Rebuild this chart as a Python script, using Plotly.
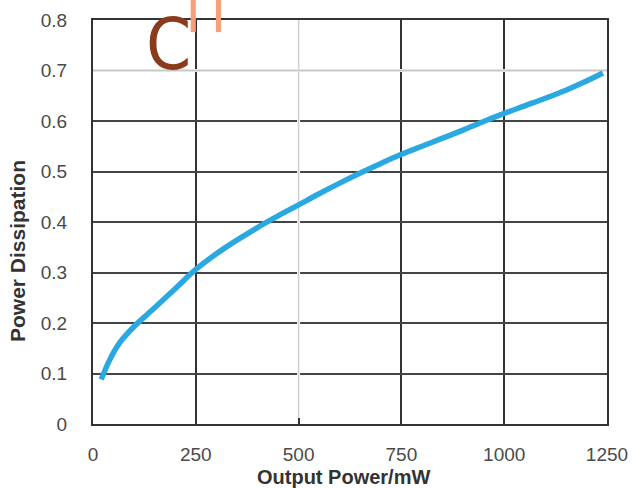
import plotly.graph_objects as go

output_power = [20, 40, 65, 100, 150, 200, 250, 300, 350, 400, 450, 500, 550, 600, 650, 700,
                750, 800, 850, 900, 950, 1000, 1050, 1100, 1150, 1200, 1240]
power_dissipation = [0.088, 0.126, 0.161, 0.193, 0.23, 0.268, 0.306, 0.337, 0.364, 0.389, 0.412,
                     0.434, 0.456, 0.477, 0.497, 0.516, 0.534, 0.55, 0.566, 0.582, 0.599, 0.615,
                     0.63, 0.645, 0.661, 0.679, 0.695]
x_ticks = [0, 250, 500, 750, 1000, 1250]
y_ticks = [0, 0.1, 0.2, 0.3, 0.4, 0.5, 0.6, 0.7, 0.8]
y_tick_text = ["0", "0.1", "0.2", "0.3", "0.4", "0.5", "0.6", "0.7", "0.8"]
x_title = "Output Power/mW"
y_title = "Power Dissipation"
light_x_grid = [500]
light_y_grid = [0.7]

fig = go.Figure()
fig.add_trace(go.Scatter(x=output_power, y=power_dissipation, mode="lines",
                         line=dict(color="#2aa9e0", width=5.5, shape="spline", smoothing=1.0),
                         showlegend=False))

font_tick = dict(family="Liberation Sans, Arial", size=19, color="#4a4a4a")
title_font = dict(family="Liberation Sans, Arial", size=20, color="#333333")
fig.update_xaxes(range=[0, 1250], tickvals=x_ticks, ticktext=[str(v) for v in x_ticks],
                 showgrid=True, gridcolor="#333333", gridwidth=2, zeroline=False,
                 showline=True, linecolor="#333333", linewidth=2, mirror=True,
                 ticks="", tickfont=font_tick, ticklabelstandoff=12, automargin=False)
fig.update_yaxes(range=[0, 0.8], tickvals=y_ticks, ticktext=y_tick_text,
                 showgrid=True, gridcolor="#444444", gridwidth=2, zeroline=False,
                 showline=True, linecolor="#333333", linewidth=2, mirror=True,
                 ticks="", tickfont=font_tick, ticklabelstandoff=20, automargin=False)

fig.add_annotation(text="<b>" + x_title + "</b>", xref="paper", yref="paper",
                   x=0.488, y=-0.131, xanchor="center", yanchor="middle",
                   showarrow=False, font=title_font)
fig.add_annotation(text="<b>" + y_title + "</b>", xref="paper", yref="paper",
                   x=-0.148, y=0.428, xanchor="center", yanchor="middle", textangle=-90,
                   showarrow=False, font=dict(family="Liberation Sans, Arial", size=21, color="#333333"))

for xv in light_x_grid:
    fig.add_shape(type="line", xref="x", yref="y", x0=xv, x1=xv, y0=0.012, y1=0.8,
                  line=dict(color="white", width=3), layer="between")
    fig.add_shape(type="line", xref="x", yref="y", x0=xv, x1=xv, y0=0.012, y1=0.8,
                  line=dict(color="#cfcfcf", width=1.5), layer="between")
for yv in light_y_grid:
    fig.add_shape(type="line", xref="x", yref="y", x0=0, x1=1250, y0=yv, y1=yv,
                  line=dict(color="white", width=3), layer="between")
    fig.add_shape(type="line", xref="x", yref="y", x0=0, x1=1250, y0=yv, y1=yv,
                  line=dict(color="#c8c8c8", width=2), layer="between")

# Decorative marks at top
fig.add_annotation(text="C", xref="paper", yref="paper", x=0.1, y=1.049,
                   xanchor="left", yanchor="top", showarrow=False,
                   font=dict(family="DejaVu Sans Condensed, DejaVu Sans", size=72, color="#8a3b1c"))
for px in [0.195, 0.244]:
    fig.add_shape(type="rect", xref="paper", yref="paper", x0=px - 0.005, x1=px + 0.005,
                  y0=0.97, y1=1.06, fillcolor="#f5a07a", line=dict(width=0), layer="above")

fig.update_layout(width=642, height=488, margin=dict(l=93, r=35, t=20, b=64),
                  plot_bgcolor="white", paper_bgcolor="white")
fig.write_html("out.html")
